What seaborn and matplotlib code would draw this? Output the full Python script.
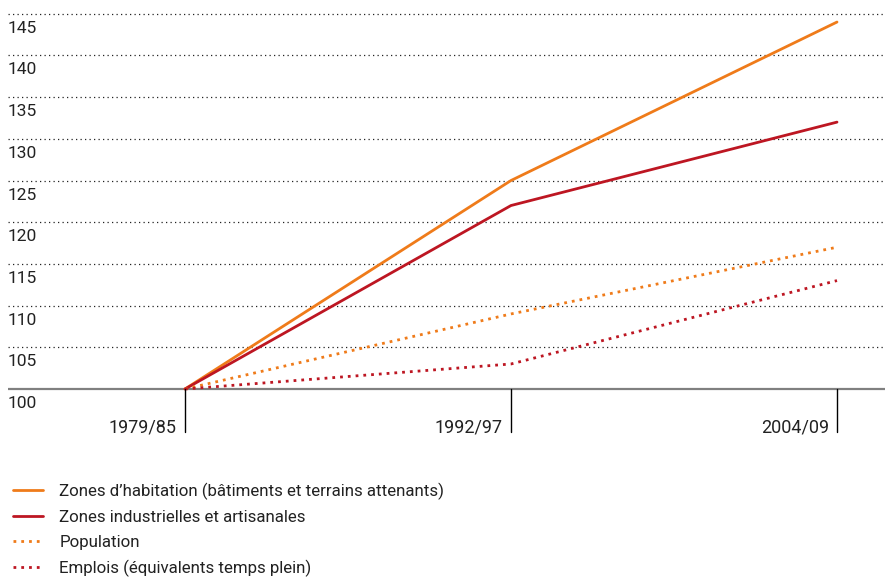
import numpy as np
import pandas as pd
import seaborn as sns
import matplotlib.pyplot as plt
from matplotlib.transforms import blended_transform_factory


periods = ["1979/85", "1992/97", "2004/09"]
series = [
    "Zones d’habitation (bâtiments et terrains attenants)",
    "Zones industrielles et artisanales",
    "Population",
    "Emplois (équivalents temps plein)",
]
habitation = [100, 125, 144]
industrie = [100, 122, 132]
population = [100, 109, 117]
emplois = [100, 103, 113]
y_ticks = [100, 105, 110, 115, 120, 125, 130, 135, 140, 145]

orange = "#ef7b1a"
red = "#bd1622"

df = pd.DataFrame(
    {
        "pos": list(range(len(periods))) * 4,
        "value": habitation + industrie + population + emplois,
        "serie": [s for s in series for _ in periods],
    }
)

sns.set_theme(style="white")
plt.rcParams["font.family"] = ["Roboto", "DejaVu Sans"]

fig = plt.figure(figsize=(8.87, 5.81), dpi=100)
W, H = 887, 581
ax = fig.add_axes([8 / W, 1 - 432 / H, (885 - 8) / W, (432 - 5) / H])

px_per_unit = (389 - 347.3) / 5
ax.set_ylim(100 - 43 / px_per_unit, 100 + 384 / px_per_unit)
ax.set_xlim((8 - 185) / 326, (885 - 185) / 326)

# grid lines
for v in y_ticks[1:]:
    ax.axhline(v, color="#222222", lw=0.9, linestyle=(0, (1, 2.6)), zorder=1)
ax.axhline(100, color="#808080", lw=1.6, zorder=2)

palette = {series[0]: orange, series[1]: red, series[2]: orange, series[3]: red}
dashes = {series[0]: "", series[1]: "", series[2]: (1, 1.8), series[3]: (1, 1.8)}

sns.lineplot(
    data=df, x="pos", y="value", hue="serie", style="serie",
    palette=palette, dashes=dashes, hue_order=series, style_order=series,
    linewidth=2, ax=ax, zorder=3,
)

handles, labels = ax.get_legend_handles_labels()
ax.get_legend().remove()

# vertical tick marks and period labels
trans_x = blended_transform_factory(ax.transData, ax.transAxes)
for i, p in enumerate(periods):
    ax.plot([i, i], [0, (432 - 389) / (432 - 5)], transform=trans_x,
            color="black", lw=1, clip_on=False, zorder=4)
    ax.text(i - 8 / 326, 0.0, p, transform=trans_x, ha="right", va="baseline",
            fontsize=13, color="#222222")

# y labels below each gridline
trans_y = blended_transform_factory(ax.transAxes, ax.transData)
for v in y_ticks:
    ax.text(0.0, v - 0.85, str(v), transform=trans_y, ha="left", va="top",
            fontsize=12.5, color="#222222")

ax.set_xticks([])
ax.set_yticks([])
ax.set_xlabel("")
ax.set_ylabel("")
for s in ax.spines.values():
    s.set_visible(False)

leg = fig.legend(
    handles, labels, loc="upper left", bbox_to_anchor=(6 / W, 1 - 476 / H),
    frameon=False, fontsize=12.2, handlelength=1.8, handletextpad=0.95,
    labelspacing=0.58, borderaxespad=0,
)
for t in leg.get_texts():
    t.set_color("#222222")

fig.savefig("out.png", dpi=100)
